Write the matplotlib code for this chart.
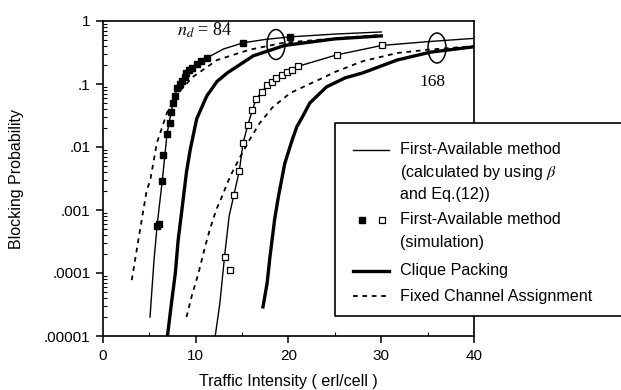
#!/usr/bin/env python3

"""
Blocking probability vs traffic intensity
(First-Available / Clique Packing / Fixed Channel Assignment)

Output: out.png
"""

import matplotlib
matplotlib.use("Agg")

import matplotlib.pyplot as plt
from matplotlib.lines import Line2D
from matplotlib.patches import Ellipse, Rectangle
from matplotlib.ticker import FixedLocator, NullFormatter

# ============================================================
# Data
# ============================================================

# --- n_d = 84 ---------------------------------------------------
fa84_x = [5.07, 5.5, 5.85, 6.4, 6.9, 7.3, 7.6, 8.0, 8.5, 9.0, 9.6, 10.1,
          10.6, 11.2, 13.0, 15.1, 17.5, 20.2, 25.0, 30.0]
fa84_p = [2e-5, 1.6e-4, 6e-4, 0.003, 0.016, 0.033, 0.055, 0.085, 0.11,
          0.15, 0.18, 0.21, 0.235, 0.26, 0.36, 0.45, 0.51, 0.56, 0.62, 0.67]

sim84_x = [5.8, 6.0, 6.4, 6.5, 6.9, 7.2, 7.3, 7.6, 7.8, 8.0, 8.3, 8.5,
           8.8, 9.0, 9.3, 9.6, 10.1, 10.6, 11.2, 15.1, 20.2]
sim84_p = [0.00055, 0.0006, 0.0029, 0.0075, 0.016, 0.024, 0.036, 0.05,
           0.065, 0.085, 0.1, 0.11, 0.13, 0.15, 0.165, 0.18, 0.21, 0.23,
           0.26, 0.45, 0.56]

fca84_x = [3.1, 3.9, 4.7, 5.1, 5.8, 6.9, 8.0, 9.7, 12.3, 15.8, 19.4,
           25.0, 30.0]
fca84_p = [7.7e-5, 4e-4, 0.002, 0.003, 0.0115, 0.035, 0.07, 0.13, 0.24,
           0.35, 0.45, 0.53, 0.6]

cp84_x = [6.95, 7.4, 7.8, 8.1, 8.6, 9.0, 9.4, 10.1, 11.2, 12.3, 13.4,
          16.2, 19.6, 25.0, 30.0]
cp84_p = [1e-5, 3.5e-5, 1e-4, 3.3e-4, 0.0013, 0.004, 0.009, 0.028, 0.065,
          0.11, 0.15, 0.28, 0.41, 0.52, 0.58]

# --- n_d = 168 --------------------------------------------------
fa168_x = [12.1, 12.6, 13.1, 13.6, 14.1, 14.7, 15.1, 15.6, 16.1, 16.5,
           17.1, 17.7, 18.2, 18.6, 19.3, 19.8, 20.4, 21.0, 25.2, 30.1,
           35.0, 40.0]
fa168_p = [1e-5, 3.3e-5, 1.8e-4, 8e-4, 0.0017, 0.0042, 0.0116, 0.022,
           0.038, 0.058, 0.074, 0.095, 0.108, 0.125, 0.14, 0.155, 0.167,
           0.19, 0.29, 0.41, 0.47, 0.53]

sim168_x = [13.1, 13.7, 14.1, 14.7, 15.1, 15.6, 16.1, 16.5, 17.1, 17.7,
            18.2, 18.6, 19.3, 19.8, 20.4, 21.0, 25.2, 30.1]
sim168_p = [1.8e-4, 1.1e-4, 0.0017, 0.0042, 0.0116, 0.022, 0.038, 0.058,
            0.074, 0.095, 0.108, 0.125, 0.14, 0.155, 0.167, 0.19, 0.29,
            0.41]

fca168_x = [9.0, 9.6, 10.3, 11.0, 11.5, 12.2, 12.8, 13.7, 14.8, 15.8,
            16.9, 18.3, 20.2, 22.0, 23.7, 25.0, 28.0, 31.7, 35.0, 40.0]
fca168_p = [2e-5, 4.5e-5, 1e-4, 2.6e-4, 4.8e-4, 0.001, 0.0016, 0.0034,
            0.007, 0.013, 0.024, 0.043, 0.072, 0.096, 0.125, 0.155, 0.23,
            0.31, 0.35, 0.40]

cp168_x = [17.25, 17.7, 18.0, 18.5, 18.9, 19.6, 20.4, 20.9, 21.5, 22.3,
           24.1, 26.1, 28.0, 31.7, 35.3, 40.0]
cp168_p = [2.9e-5, 7e-5, 1.8e-4, 7e-4, 0.0016, 0.0055, 0.013, 0.021,
           0.03, 0.05, 0.09, 0.125, 0.15, 0.24, 0.32, 0.39]

# ticks
x_ticks = [0, 10, 20, 30, 40]
y_ticks = [1e-5, 1e-4, 1e-3, 1e-2, 1e-1, 1]
y_tick_labels = [".00001", ".0001", ".001", ".01", ".1", "1"]

legend_rows = [
    "First-Available method",
    r"(calculated by using $\beta$",
    "and Eq.(12))",
    "First-Available method",
    "(simulation)",
    "Clique Packing",
    "Fixed Channel Assignment",
]

# ============================================================
# Styles
# ============================================================

W, H = 621, 390

plt.rcParams["font.family"] = ["Liberation Sans", "DejaVu Sans"]
plt.rcParams["mathtext.fontset"] = "stix"

THIN = dict(color="black", linewidth=1.0)
THICK = dict(color="black", linewidth=2.4)
DASH = dict(color="black", linewidth=1.3, dashes=(2.6, 2.6))


def px(x, y):
    # pixel (from top-left) -> figure fraction
    return x / W, 1 - y / H


# ============================================================
# Plot
# ============================================================

def main():

    fig = plt.figure(figsize=(W / 100, H / 100), dpi=100)

    ax = fig.add_axes([103 / W, 1 - 336 / H, 371 / W, 315 / H])

    ax.set_yscale("log")
    ax.set_xlim(0, 40)
    ax.set_ylim(1e-5, 1)

    # curves
    ax.plot(fa84_x, fa84_p, **THIN)
    ax.plot(fa168_x, fa168_p, **THIN)
    ax.plot(fca84_x, fca84_p, **DASH)
    ax.plot(fca168_x, fca168_p, **DASH)
    ax.plot(cp84_x, cp84_p, **THICK)
    ax.plot(cp168_x, cp168_p, **THICK)

    ax.plot(sim84_x, sim84_p, linestyle="none", marker="s",
            markersize=3.8, color="black")
    ax.plot(sim168_x, sim168_p, linestyle="none", marker="s",
            markersize=4.3, markerfacecolor="white",
            markeredgecolor="black", markeredgewidth=0.9)

    # ellipses + labels
    for cx, cy in [(276, 44.5), (437, 48)]:
        ax.add_patch(Ellipse(
            ((cx - 103) / 371, (336 - cy) / 315),
            18 / 371, 30 / 315,
            transform=ax.transAxes,
            fill=False, edgecolor="black", linewidth=1.1
        ))

    ax.text(8.0, 0.72, r"$n_d$ = 84", fontsize=13,
            fontfamily="Liberation Serif", ha="left", va="center")
    ax.text(35.5, 0.107, "168", fontsize=12.5,
            fontfamily="Liberation Serif", ha="center", va="center")

    # axes / ticks
    for s in ax.spines.values():
        s.set_linewidth(1.2)

    ax.xaxis.set_major_locator(FixedLocator(x_ticks))
    ax.xaxis.set_minor_locator(FixedLocator([5, 15, 25, 35]))
    ax.set_xticklabels([str(t) for t in x_ticks])
    ax.set_yticks(y_ticks)
    ax.set_yticklabels(y_tick_labels)
    ax.yaxis.set_minor_formatter(NullFormatter())

    ax.tick_params(which="major", direction="out", length=5, width=1.1,
                   labelsize=11, pad=4)
    ax.tick_params(which="minor", direction="in", length=3, width=0.8)

    ax.set_xlabel("Traffic Intensity ( erl/cell )", fontsize=11.5,
                  labelpad=8)
    ax.set_ylabel("Blocking Probability", fontsize=11.5, labelpad=14)

    # ---------------------------------------
    # Legend box (runs off the right edge)
    # ---------------------------------------

    x0, y0 = px(335, 316)
    x1, y1 = px(335, 123)
    fig.add_artist(Rectangle(
        (x0, y0), 1 - x0, y1 - y0,
        transform=fig.transFigure, facecolor="white",
        edgecolor="none", zorder=5
    ))
    # open on the right: top, left and bottom edges only
    fig.add_artist(Line2D(
        [1.0, x0, x0, 1.0], [y1, y1, y0, y0],
        transform=fig.transFigure, color="black",
        linewidth=1.2, zorder=6
    ))

    row_y = [150, 172, 195, 220, 243, 271, 296]
    for text, y in zip(legend_rows, row_y):
        fig.text(400 / W, 1 - y / H, text, fontsize=11.6,
                 ha="left", va="center", zorder=6)

    def handle(y, **style):
        fig.add_artist(Line2D(
            [353 / W, 389 / W], [1 - y / H, 1 - y / H],
            transform=fig.transFigure, zorder=6, **style
        ))

    handle(150, **THIN)
    handle(271, **THICK)
    handle(296, **DASH)

    fig.add_artist(Line2D(
        [362 / W], [1 - 220 / H], transform=fig.transFigure,
        marker="s", markersize=3.8, color="black", zorder=6
    ))
    fig.add_artist(Line2D(
        [382 / W], [1 - 220 / H], transform=fig.transFigure,
        marker="s", markersize=4.3, markerfacecolor="white",
        markeredgecolor="black", markeredgewidth=0.9, zorder=6
    ))

    fig.savefig("out.png", dpi=100)
    plt.close(fig)


if __name__ == "__main__":

    main()
